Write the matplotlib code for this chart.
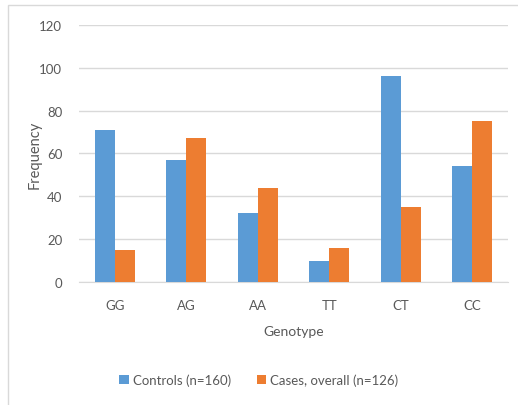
import matplotlib
matplotlib.use("Agg")
import matplotlib.pyplot as plt
import numpy as np
from matplotlib.patches import Rectangle

# Genotype frequencies
genotypes = ["GG", "AG", "AA", "TT", "CT", "CC"]
controls = [71, 57, 32, 10, 96, 54]
cases = [15, 67, 44, 16, 35, 75]
series_names = ["Controls (n=160)", "Cases, overall (n=126)"]

blue = "#5b9bd5"
orange = "#ed7d31"
textc = "#595959"

plt.rcParams["font.family"] = ["Lato", "DejaVu Sans"]

fig = plt.figure(figsize=(5.18, 4.06), dpi=100)
ax = fig.add_axes([0.1525, 0.303, 0.8285, 0.633])

# outer chart border
fig.patches.append(Rectangle((8 / 518, -0.1), 1.2, 1 - 6 / 406 + 0.1,
                             transform=fig.transFigure, fill=False,
                             edgecolor="#d9d9d9", linewidth=1.0))

x = np.arange(len(genotypes))
w = 0.28
ax.bar(x - w / 2, controls, w, color=blue, label=series_names[0], zorder=3)
ax.bar(x + w / 2, cases, w, color=orange, label=series_names[1], zorder=3)

ax.set_xlim(-0.5, len(genotypes) - 0.5)
ax.set_ylim(0, 120)
ax.set_yticks(range(0, 121, 20))
ax.set_xticks(x)
ax.set_xticklabels(genotypes)
ax.grid(axis="y", color="#d9d9d9", linewidth=1.0, zorder=0)
for s in ["top", "right", "left"]:
    ax.spines[s].set_visible(False)
ax.spines["bottom"].set_color("#d9d9d9")
ax.tick_params(length=0, colors=textc, labelsize=9.5)
ax.tick_params(axis="x", pad=12)
ax.tick_params(axis="y", pad=12)

ax.set_xlabel("Genotype", color=textc, fontsize=10, labelpad=10)
ax.set_ylabel("Frequency", color=textc, fontsize=10.5)
ax.yaxis.set_label_coords(-0.088, 0.5)

fig.legend(loc="center", bbox_to_anchor=(0.5, 1 - 381 / 406), ncol=2,
           frameon=False, fontsize=9.5, labelcolor=textc,
           handlelength=0.7, handleheight=0.7, handletextpad=0.3,
           columnspacing=2.0)

fig.savefig("out.png", dpi=100, facecolor="white")
